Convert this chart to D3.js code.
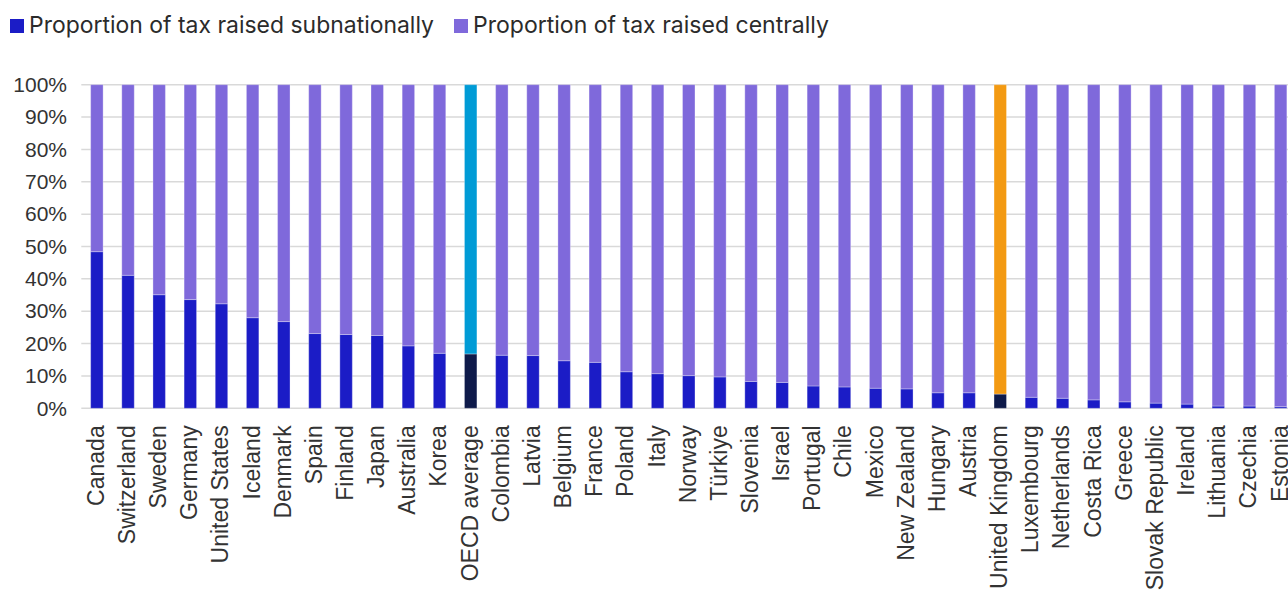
<!DOCTYPE html>
<html>
<head>
<meta charset="utf-8">
<script src="https://cdn.jsdelivr.net/npm/d3@7"></script>
<style>
  html, body { margin: 0; padding: 0; background: #ffffff; overflow: hidden; }
  svg { display: block; }
</style>
</head>
<body>
<svg id="chart" width="1300" height="591"></svg>
<script>
// Share of total tax revenue raised by sub-national vs central government
const categories = [
  "Canada", "Switzerland", "Sweden", "Germany", "United States", "Iceland",
  "Denmark", "Spain", "Finland", "Japan", "Australia", "Korea", "OECD average",
  "Colombia", "Latvia", "Belgium", "France", "Poland", "Italy", "Norway",
  "Türkiye", "Slovenia", "Israel", "Portugal", "Chile", "Mexico", "New Zealand",
  "Hungary", "Austria", "United Kingdom", "Luxembourg", "Netherlands",
  "Costa Rica", "Greece", "Slovak Republic", "Ireland", "Lithuania", "Czechia",
  "Estonia"
];
const subnational = [
  48.4, 41.1, 35.1, 33.6, 32.3, 28.0, 26.8, 23.1, 22.8, 22.5, 19.3, 17.0, 16.8,
  16.4, 16.3, 14.7, 14.2, 11.3, 10.7, 10.1, 9.7, 8.3, 8.0, 6.9, 6.6, 6.2, 6.0,
  4.8, 4.8, 4.4, 3.4, 3.1, 2.6, 2.0, 1.6, 1.3, 0.7, 0.7, 0.5
];
const central = [
  51.6, 58.9, 64.9, 66.4, 67.7, 72.0, 73.2, 76.9, 77.2, 77.5, 80.7, 83.0, 83.2,
  83.6, 83.7, 85.3, 85.8, 88.7, 89.3, 89.9, 90.3, 91.7, 92.0, 93.1, 93.4, 93.8, 94.0,
  95.2, 95.2, 95.6, 96.6, 96.9, 97.4, 98.0, 98.4, 98.7, 99.3, 99.3, 99.5
];
const yTicks = [0, 10, 20, 30, 40, 50, 60, 70, 80, 90, 100];
const seriesNames = ["Proportion of tax raised subnationally", "Proportion of tax raised centrally"];

const colors = { sub: "#1b1cc6", central: "#7f69db" };
const highlight = {
  "OECD average": { sub: "#0e1a4a", central: "#009bd6" },
  "United Kingdom": { sub: "#0e1a4a", central: "#f39a12" }
};

const svg = d3.select("#chart");
const plotLeft = 81.3, plotRight = 1296.2, plotTop = 84.7, plotBottom = 408.3;

const x = d3.scaleBand().domain(categories).range([plotLeft, plotRight]).paddingInner(0.6).paddingOuter(0.3);
const y = d3.scaleLinear().domain([0, 100]).range([plotBottom, plotTop]);

// gridlines
svg.append("g")
  .selectAll("line")
  .data(yTicks)
  .join("line")
  .attr("x1", plotLeft)
  .attr("x2", 1300)
  .attr("y1", d => y(d))
  .attr("y2", d => y(d))
  .attr("stroke", "#d9d9d9")
  .attr("stroke-width", 1.5);

// y axis labels
const yAxis = d3.axisLeft(y).tickValues(yTicks).tickFormat(d => d + "%").tickSize(0).tickPadding(0);
const gy = svg.append("g").attr("transform", `translate(67,0)`).call(yAxis);
gy.select(".domain").remove();
gy.selectAll("text")
  .attr("font-family", "'Liberation Sans', Arial, sans-serif")
  .attr("font-size", 21)
  .attr("fill", "#333333");

// stacked bars
const rows = categories.map((c, i) => ({ c, sub: subnational[i], cen: central[i] }));
const bars = svg.append("g");
bars.selectAll("rect.sub")
  .data(rows)
  .join("rect")
  .attr("class", "sub")
  .attr("x", d => x(d.c))
  .attr("width", x.bandwidth())
  .attr("y", d => y(d.sub))
  .attr("height", d => y(0) - y(d.sub))
  .attr("fill", d => (highlight[d.c] || colors).sub);
bars.selectAll("rect.cen")
  .data(rows)
  .join("rect")
  .attr("class", "cen")
  .attr("x", d => x(d.c))
  .attr("width", x.bandwidth())
  .attr("y", d => y(d.sub + d.cen))
  .attr("height", d => y(d.sub) - y(d.sub + d.cen))
  .attr("fill", d => (highlight[d.c] || colors).central);
bars.selectAll("rect")
  .attr("stroke", "#ffffff")
  .attr("stroke-opacity", 0.3)
  .attr("stroke-width", 1);

// x axis category labels
const xAxis = d3.axisBottom(x).tickSize(0).tickPadding(0);
const gx = svg.append("g").attr("transform", `translate(0,${plotBottom})`).call(xAxis);
gx.select(".domain").remove();
gx.selectAll("text")
  .attr("font-family", "'Liberation Sans', Arial, sans-serif")
  .attr("font-size", 23)
  .attr("fill", "#333333")
  .attr("text-anchor", "end")
  .attr("transform", "rotate(-90)")
  .attr("x", -17)
  .attr("y", 0)
  .attr("dy", "0.3em");

// legend
const legend = svg.append("g");
const legendItems = [
  { name: seriesNames[0], color: colors.sub, x: 10, len: 405 },
  { name: seriesNames[1], color: colors.central, x: 454, len: 356 }
];
const li = legend.selectAll("g").data(legendItems).join("g")
  .attr("transform", d => `translate(${d.x},19)`);
li.append("rect").attr("width", 14).attr("height", 14).attr("fill", d => d.color);
li.append("text")
  .attr("x", 19)
  .attr("y", 14)
  .attr("font-family", "Inter, 'Noto Sans', sans-serif")
  .attr("font-size", 23)
  .attr("fill", "#2b2b2b")
  .attr("textLength", d => d.len)
  .attr("lengthAdjust", "spacingAndGlyphs")
  .text(d => d.name);
</script>
</body>
</html>
